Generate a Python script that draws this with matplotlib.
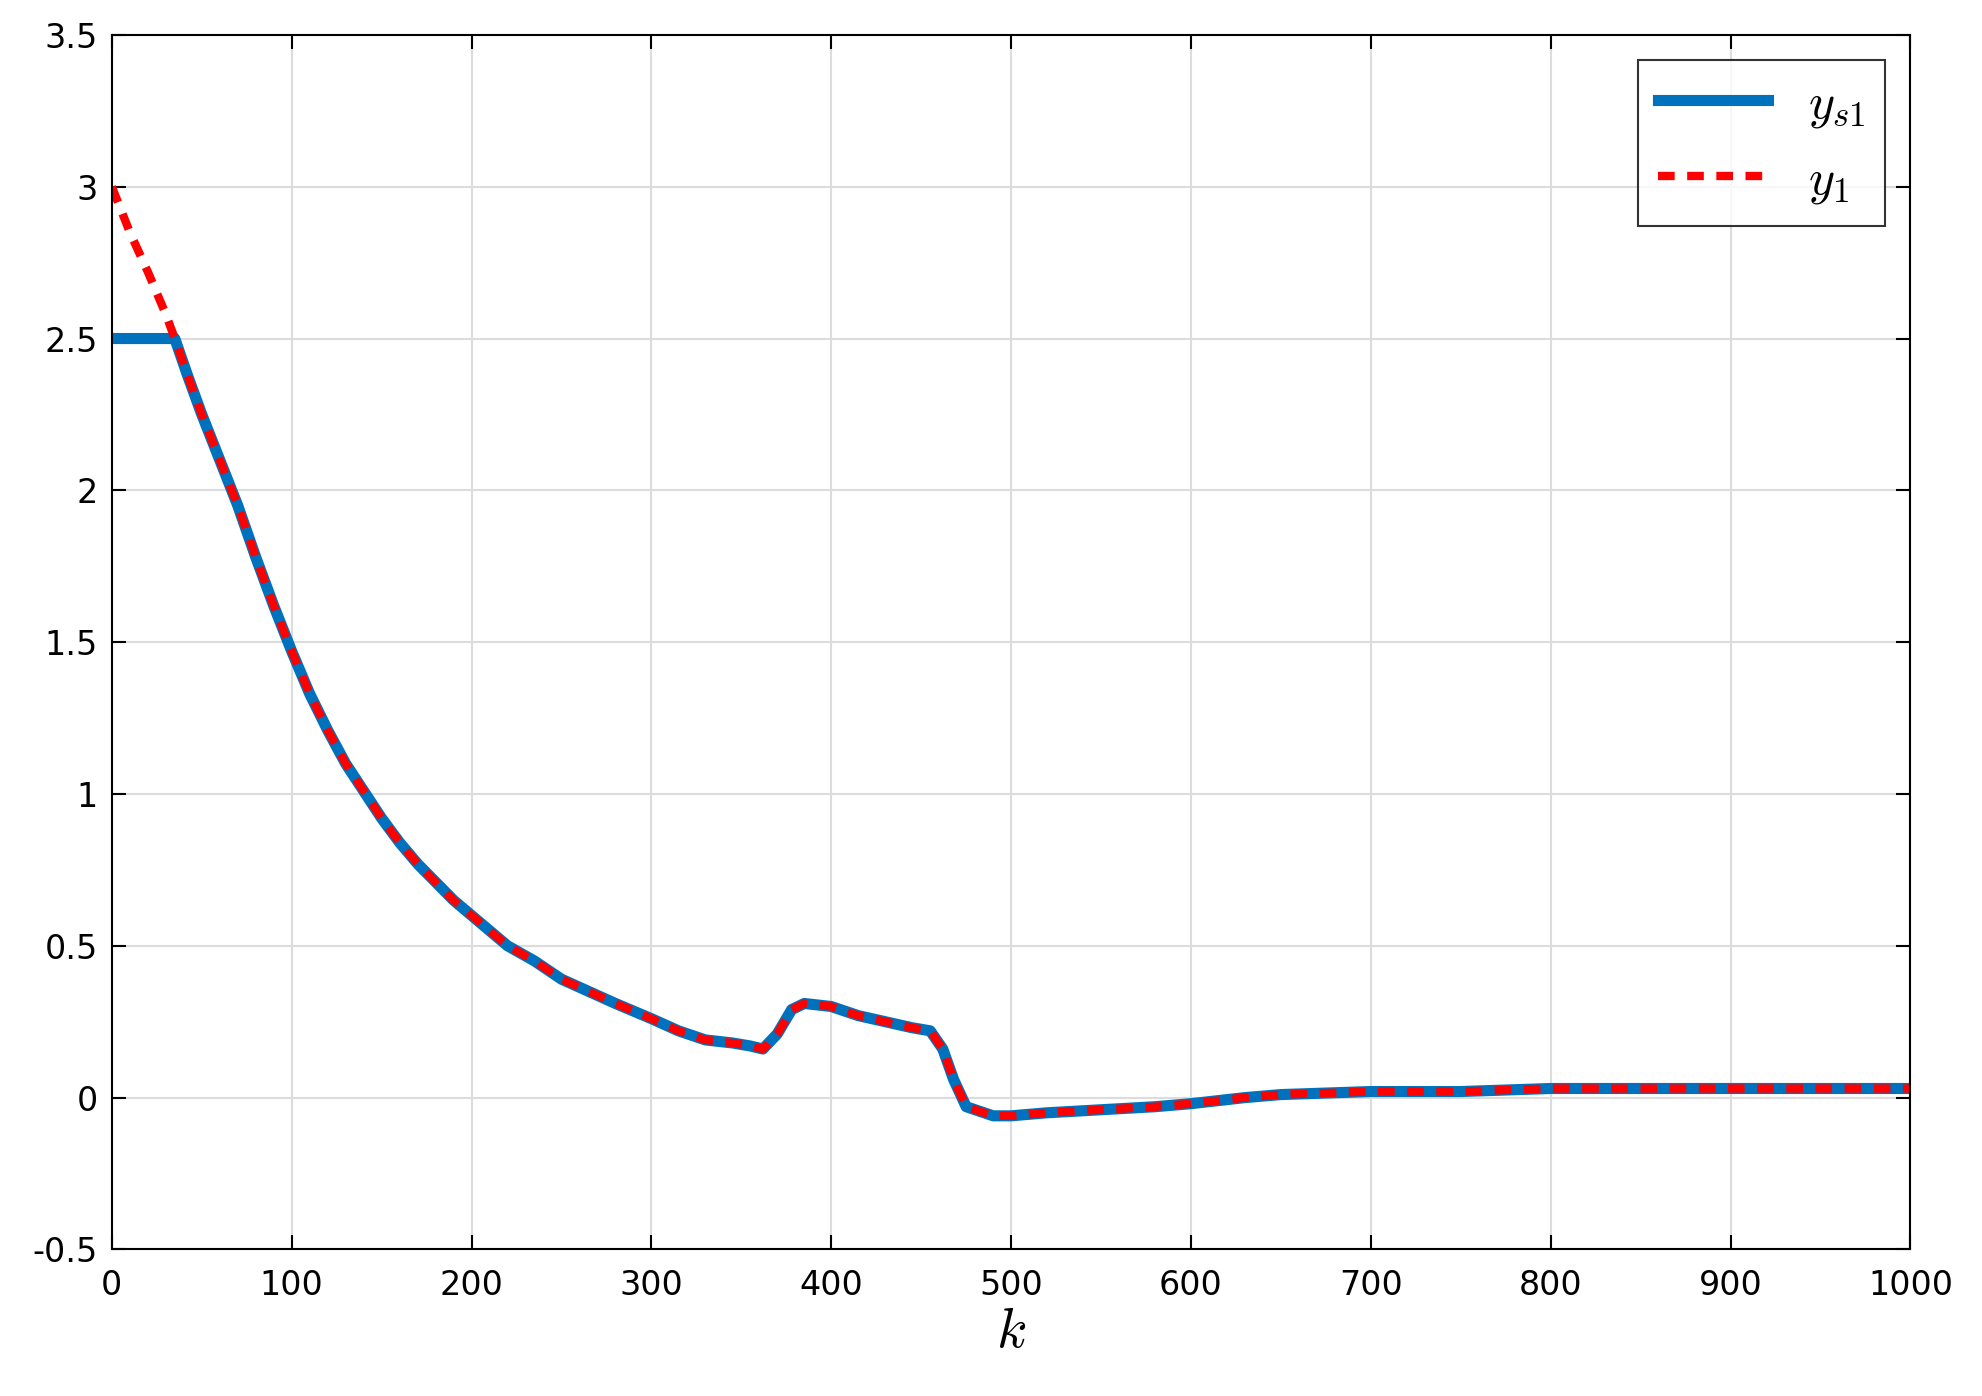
import matplotlib
matplotlib.use("Agg")
import matplotlib.pyplot as plt

plt.rcParams['mathtext.fontset'] = 'cm'

k_s = [0, 35, 42, 50, 60, 70, 80, 90, 100, 110, 120, 130, 140, 150, 160, 170, 180, 190, 200, 210, 220, 235, 250, 265, 280, 300, 315, 330, 345, 355, 362, 370, 378, 385, 400, 415, 430, 445, 455, 462, 468, 475, 490, 500, 520, 550, 580, 600, 630, 650, 700, 750, 800, 850, 900, 950, 1000]
ys1 = [2.5, 2.5, 2.38, 2.25, 2.1, 1.95, 1.78, 1.62, 1.47, 1.33, 1.21, 1.1, 1.01, 0.92, 0.84, 0.77, 0.71, 0.65, 0.6, 0.55, 0.5, 0.45, 0.39, 0.35, 0.31, 0.26, 0.22, 0.19, 0.18, 0.17, 0.16, 0.21, 0.29, 0.31, 0.3, 0.27, 0.25, 0.23, 0.22, 0.16, 0.06, -0.03, -0.06, -0.06, -0.05, -0.04, -0.03, -0.02, 0.0, 0.01, 0.02, 0.02, 0.03, 0.03, 0.03, 0.03, 0.03]
k_y = [0, 10, 20, 30] + k_s[1:]
y1 = [3.0, 2.85, 2.72, 2.58] + ys1[1:]

fig = plt.figure(figsize=(19.83, 13.96), dpi=100)
ax = fig.add_axes([0.0564, 0.105, 0.907, 0.87])
ax.plot(k_s, ys1, color='#0072BD', lw=8, label=r'$y_{s1}$')
ax.plot(k_y, y1, color='red', lw=6, ls=(0, (2, 1.5)), label=r'$y_1$')
ax.set_xlim(0, 1000)
ax.set_ylim(-0.5, 3.5)
ax.set_xticks(range(0, 1001, 100))
ax.set_yticks([-0.5, 0, 0.5, 1, 1.5, 2, 2.5, 3, 3.5])
ax.set_yticklabels(['-0.5', '0', '0.5', '1', '1.5', '2', '2.5', '3', '3.5'])
ax.grid(True, color='#dcdcdc', lw=1.5)
ax.tick_params(labelsize=24, direction='in', length=10, width=1.5, top=True, right=True)
ax.tick_params(axis='x', pad=14)
ax.tick_params(axis='y', pad=10)
for s in ax.spines.values():
    s.set_linewidth(1.5)
ax.set_xlabel(r'$k$', fontsize=40, labelpad=2)
leg = ax.legend(loc='upper right', fontsize=36, fancybox=False, edgecolor='black', handlelength=2.2, borderaxespad=0.5)
leg.get_frame().set_linewidth(1.5)
fig.savefig('out.png')
